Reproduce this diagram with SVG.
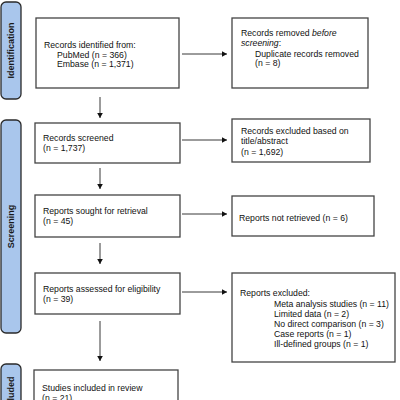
<svg xmlns="http://www.w3.org/2000/svg" width="400" height="400" viewBox="0 0 400 400">
<defs>
<style>
.box{fill:#fff;stroke:#444;stroke-width:1.3}
.bar{fill:#a9c6ec;stroke:#2a2a2a;stroke-width:1.3}
.t{font-family:"Liberation Sans",Arial,sans-serif;font-size:8.7px;fill:#111}
.lbl{font-family:"Liberation Sans",Arial,sans-serif;font-size:9px;font-weight:bold;fill:#1a1a1a;text-anchor:middle}
.ar{stroke:#222;stroke-width:0.9;fill:none;marker-end:url(#ah)}
</style>
<marker id="ah" markerUnits="userSpaceOnUse" markerWidth="6" markerHeight="6" refX="5" refY="3" orient="auto">
<path d="M0,0.2 L5,3 L0,5.8 Z" fill="#111"/>
</marker>
</defs>
<rect width="400" height="400" fill="#fff"/>
<g id="phase-identification">
<rect class="bar" x="1" y="2" width="20" height="97" rx="5"/>
<text class="lbl" transform="translate(14.2,50.5) rotate(-90)">Identification</text>
</g>
<g id="phase-screening">
<rect class="bar" x="1" y="120" width="20" height="213" rx="5"/>
<text class="lbl" transform="translate(14.2,226.5) rotate(-90)">Screening</text>
</g>
<g id="phase-included">
<rect class="bar" x="1" y="364" width="20" height="76" rx="5"/>
<text class="lbl" transform="translate(14.2,395) rotate(-90)">Included</text>
</g>
<g id="identified">
<rect class="box" x="36" y="18" width="143" height="70"/>
<text class="t" x="44" y="48">Records identified from:</text>
<text class="t" x="57" y="57.5">PubMed (n = 366)</text>
<text class="t" x="57" y="67">Embase (n = 1,371)</text>
</g>
<g id="removed">
<rect class="box" x="232" y="18" width="136" height="70"/>
<text class="t" x="241" y="36">Records removed <tspan font-style="italic">before</tspan></text>
<text class="t" x="241" y="46"><tspan font-style="italic">screening</tspan>:</text>
<text class="t" x="255" y="56.5">Duplicate records removed</text>
<text class="t" x="255" y="66">(n = 8)</text>
</g>
<g id="screened">
<rect class="box" x="35" y="123" width="145" height="40"/>
<text class="t" x="43" y="141">Records screened</text>
<text class="t" x="43" y="151">(n = 1,737)</text>
</g>
<g id="excluded-title">
<rect class="box" x="232" y="119" width="138" height="43"/>
<text class="t" x="241" y="134">Records excluded based on</text>
<text class="t" x="241" y="144">title/abstract</text>
<text class="t" x="241" y="155">(n = 1,692)</text>
</g>
<g id="sought">
<rect class="box" x="35" y="195" width="145" height="42"/>
<text class="t" x="43" y="214">Reports sought for retrieval</text>
<text class="t" x="43" y="224">(n = 45)</text>
</g>
<g id="not-retrieved">
<rect class="box" x="232" y="196" width="142" height="40"/>
<text class="t" x="239" y="221">Reports not retrieved (n = 6)</text>
</g>
<g id="assessed">
<rect class="box" x="35" y="273" width="145" height="41"/>
<text class="t" x="43" y="292">Reports assessed for eligibility</text>
<text class="t" x="43" y="302">(n = 39)</text>
</g>
<g id="reports-excluded">
<rect class="box" x="232" y="273" width="163" height="89"/>
<text class="t" x="240" y="296">Reports excluded:</text>
<text class="t" x="274" y="306.5">Meta analysis studies (n = 11)</text>
<text class="t" x="274" y="316.5">Limited data (n = 2)</text>
<text class="t" x="274" y="326.5">No direct comparison (n = 3)</text>
<text class="t" x="274" y="336.5">Case reports (n = 1)</text>
<text class="t" x="274" y="346.5">Ill-defined groups (n = 1)</text>
</g>
<g id="included">
<rect class="box" x="34" y="370" width="144" height="60"/>
<text class="t" x="42" y="391">Studies included in review</text>
<text class="t" x="42" y="401">(n = 21)</text>
</g>
<g id="connectors">
<line class="ar" x1="182" y1="54" x2="227" y2="54"/>
<line class="ar" x1="182" y1="140" x2="227" y2="140"/>
<line class="ar" x1="182" y1="214" x2="227" y2="214"/>
<line class="ar" x1="182" y1="292" x2="227" y2="292"/>
<line class="ar" x1="100" y1="97" x2="100" y2="118"/>
<line class="ar" x1="100" y1="168" x2="100" y2="189"/>
<line class="ar" x1="100" y1="243" x2="100" y2="264"/>
<line class="ar" x1="100" y1="321" x2="100" y2="361"/>
</g>
</svg>
